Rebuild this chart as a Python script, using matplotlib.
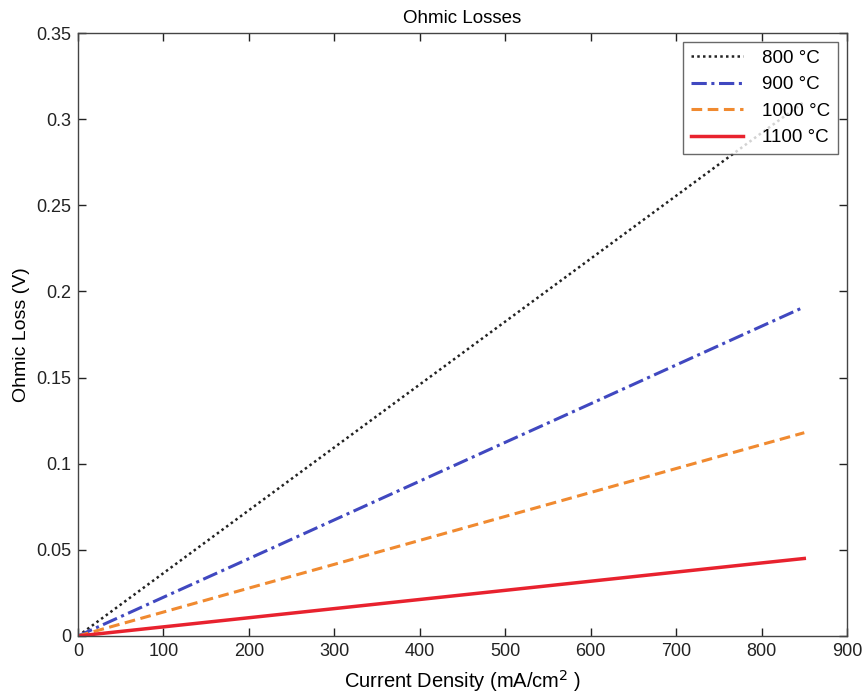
import matplotlib
matplotlib.use("Agg")
import matplotlib.pyplot as plt

plt.rcParams['font.family'] = ['Liberation Sans', 'DejaVu Sans']

current_density = [0, 100, 200, 300, 400, 500, 600, 700, 800, 850]
loss_800 = [0, 0.0365, 0.073, 0.1095, 0.146, 0.1825, 0.219, 0.2555, 0.292, 0.310]
loss_900 = [0, 0.0225, 0.0449, 0.0674, 0.0899, 0.1124, 0.1348, 0.1573, 0.1798, 0.191]
loss_1000 = [0, 0.0139, 0.0278, 0.0416, 0.0555, 0.0694, 0.0833, 0.0972, 0.1111, 0.118]
loss_1100 = [0, 0.0053, 0.0106, 0.0159, 0.0212, 0.0265, 0.0318, 0.0371, 0.0424, 0.045]
labels = ['800 °C', '900 °C', '1000 °C', '1100 °C']
x_ticks = [0, 100, 200, 300, 400, 500, 600, 700, 800, 900]
y_ticks = [0, 0.05, 0.1, 0.15, 0.2, 0.25, 0.3, 0.35]
y_ticklabels = ['0', '0.05', '0.1', '0.15', '0.2', '0.25', '0.3', '0.35']

fig = plt.figure(figsize=(8.66, 6.96), dpi=100)
ax = fig.add_axes([78/866, 60/696, 769/866, 603/696])

ax.plot(current_density, loss_800, color='#222222', linestyle=(0, (1, 1.3)), linewidth=1.8, label=labels[0])
ax.plot(current_density, loss_900, color='#4048c0', linestyle=(0, (5, 1.5, 1, 1.5)), linewidth=2.2, label=labels[1])
ax.plot(current_density, loss_1000, color='#f08a30', linestyle=(0, (3.5, 1.8)), linewidth=2.2, label=labels[2])
ax.plot(current_density, loss_1100, color='#e8222e', linestyle='-', linewidth=2.5, label=labels[3])

ax.set_xlim(0, 900)
ax.set_ylim(0, 0.35)
ax.set_xticks(x_ticks)
ax.set_yticks(y_ticks)
ax.set_yticklabels(y_ticklabels)
ax.tick_params(direction='in', top=True, right=True, length=6, width=1, labelsize=13, colors='#222222', pad=5)
for s in ax.spines.values():
    s.set_color('#444444')
    s.set_linewidth(1)

ax.set_title('Ohmic Losses', fontsize=13.5, pad=7)
ax.set_xlabel('Current Density (mA/cm$^2$ )', fontsize=14.5, labelpad=6)
ax.set_ylabel('Ohmic Loss (V)', fontsize=14, labelpad=4)

leg = ax.legend(loc='upper right', fontsize=13.5, frameon=True, fancybox=False,
                edgecolor='#444444', handlelength=2.8, borderpad=0.4, labelspacing=0.5,
                handletextpad=1.0, borderaxespad=0, bbox_to_anchor=(0.988, 0.985))
leg.get_frame().set_linewidth(1)

fig.savefig('out.png', dpi=100)
